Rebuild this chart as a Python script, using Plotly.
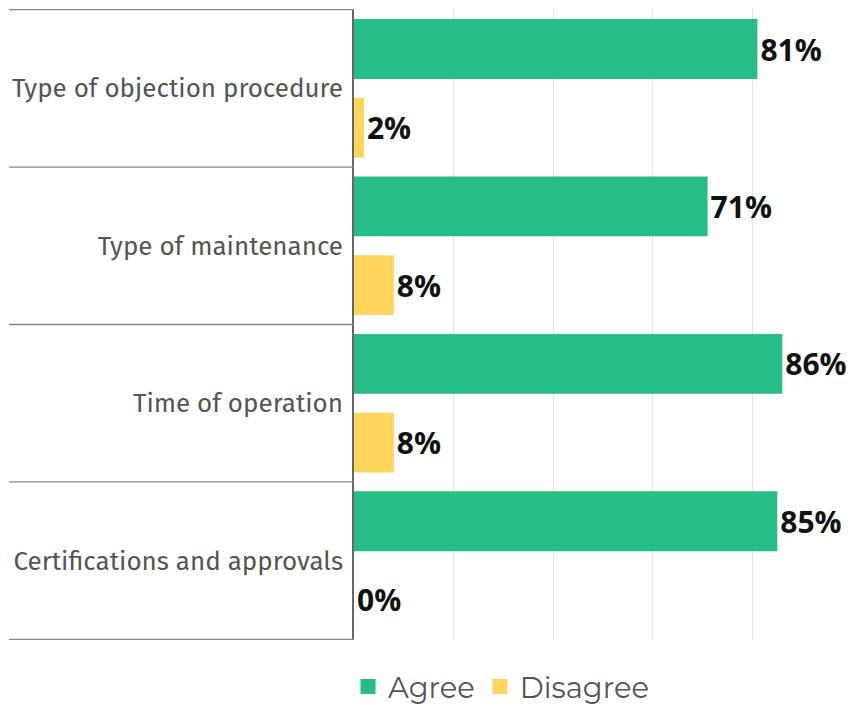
import plotly.graph_objects as go

categories = ["Type of objection procedure", "Type of maintenance", "Time of operation", "Certifications and approvals"]
agree = [81, 71, 86, 85]
disagree = [2, 8, 8, 0]
series_names = ["Agree", "Disagree"]
x_ticks = [0, 20, 40, 60, 80, 100]

GREEN = "#26be86"
YELLOW = "#ffd55c"

fig = go.Figure()
for name, vals, col in [(series_names[0], agree, GREEN), (series_names[1], disagree, YELLOW)]:
    fig.add_trace(go.Bar(
        y=categories, x=vals, orientation="h", name=name, showlegend=False,
        marker=dict(color=col, line=dict(width=0)),
        text=[f"{v}%" for v in vals], textposition="outside",
        textfont=dict(family="Open Sans, sans-serif", size=30, color="#111111", weight="bold"),
        cliponaxis=False,
    ))
# legend entries with square markers
for name, col in [(series_names[0], GREEN), (series_names[1], YELLOW)]:
    fig.add_trace(go.Scatter(
        x=[None], y=[None], mode="markers", name=name,
        marker=dict(symbol="square", size=15, color=col), showlegend=True,
    ))

shapes = []
for i in range(len(categories) + 1):
    shapes.append(dict(type="line", xref="paper", yref="y", x0=-0.693, x1=0,
                       y0=i - 0.5, y1=i - 0.5, line=dict(color="#888888", width=1.3)))

# page body has an 8px margin, so the figure is sized/positioned to compensate
fig.update_layout(
    width=846, height=697,
    margin=dict(l=346, r=2, t=1, b=65, autoexpand=False),
    paper_bgcolor="white", plot_bgcolor="white",
    barmode="group", bargap=0.0, bargroupgap=0.24,
    showlegend=True,
    legend=dict(orientation="h", x=-0.012, xanchor="left", y=-0.074, yanchor="middle",
                font=dict(family="Montserrat, Lato, sans-serif", size=29, color="#555555"),
                itemwidth=30, traceorder="normal", tracegroupgap=0),
    xaxis=dict(range=[0, 100], tickvals=x_ticks, showticklabels=False, showgrid=True,
               gridcolor="#e4e4e4", gridwidth=1, zeroline=False, showline=False,
               fixedrange=True, automargin=False),
    yaxis=dict(autorange="reversed", showgrid=False, showline=True, linecolor="#666666", linewidth=1.5,
               ticks="", ticklabelstandoff=4, automargin=False,
               tickfont=dict(family="Fira Sans, Open Sans, sans-serif", size=26, color="#555555"),
               zeroline=False),
    shapes=shapes,
)
fig.write_html("out.html")
